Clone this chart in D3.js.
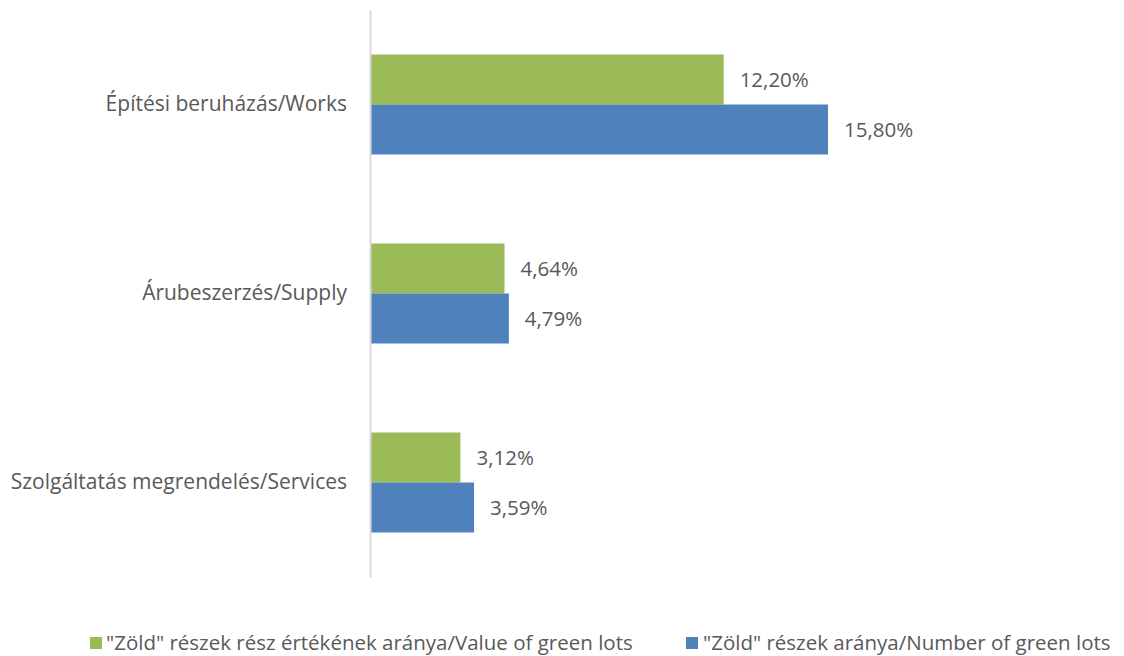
<!DOCTYPE html>
<html><head><meta charset="utf-8">
<script src="https://cdn.jsdelivr.net/npm/d3@7"></script>
<style>body{margin:0;background:#fff;} svg{display:block;}</style>
</head><body>
<svg id="c" width="1124" height="656"></svg>
<script>
const categories = ["Építési beruházás/Works", "Árubeszerzés/Supply", "Szolgáltatás megrendelés/Services"];
const seriesNames = ["\"Zöld\" részek rész értékének aránya/Value of green lots", "\"Zöld\" részek aránya/Number of green lots"];
const valueShare = [12.20, 4.64, 3.12];
const numberShare = [15.80, 4.79, 3.59];
const colors = ["#9BBB59", "#4F81BD"];

const svg = d3.select("#c");
const font = "'Open Sans', sans-serif";
const textColor = "#595959";
const x = d3.scaleLinear().domain([0, 15.80]).range([370, 828]);
const y = d3.scaleBand().domain(categories).range([10, 577]).paddingInner(89/189).paddingOuter(44.5/189);
const sub = d3.scaleBand().domain([0, 1]).range([0, y.bandwidth()]);
const series = [valueShare, numberShare];
const fmt = v => v.toFixed(2).replace(".", ",") + "%";

series.forEach((vals, si) => {
  const g = svg.append("g");
  g.selectAll("rect").data(categories).join("rect")
    .attr("x", x(0))
    .attr("y", c => y(c) + sub(si))
    .attr("width", (c, i) => x(vals[i]) - x(0))
    .attr("height", sub.bandwidth())
    .attr("fill", colors[si]);
  g.selectAll("text").data(categories).join("text")
    .attr("x", (c, i) => x(vals[i]) + 16)
    .attr("y", c => y(c) + sub(si) + sub.bandwidth() / 2)
    .attr("dy", "0.36em")
    .attr("font-family", font).attr("font-size", 20.5).attr("fill", textColor)
    .text((c, i) => fmt(vals[i]));
});

// axis
const axis = d3.axisLeft(y).tickSize(0).tickPadding(23);
const ag = svg.append("g").attr("transform", `translate(${x(0)},0)`).call(axis);
ag.select(".domain").attr("stroke", "#d9d9d9").attr("stroke-width", 2);
ag.selectAll("text").attr("font-family", font).attr("font-size", 21).attr("fill", textColor);

// legend
const legend = [{x: 90, tx: 106}, {x: 686, tx: 703}];
legend.forEach((l, i) => {
  svg.append("rect").attr("x", l.x).attr("y", 637).attr("width", 12).attr("height", 12).attr("fill", colors[i]);
  svg.append("text").attr("x", l.tx).attr("y", 650)
    .attr("font-family", font).attr("font-size", 20.5).attr("fill", textColor)
    .text(seriesNames[i]);
});
</script>
</body></html>
